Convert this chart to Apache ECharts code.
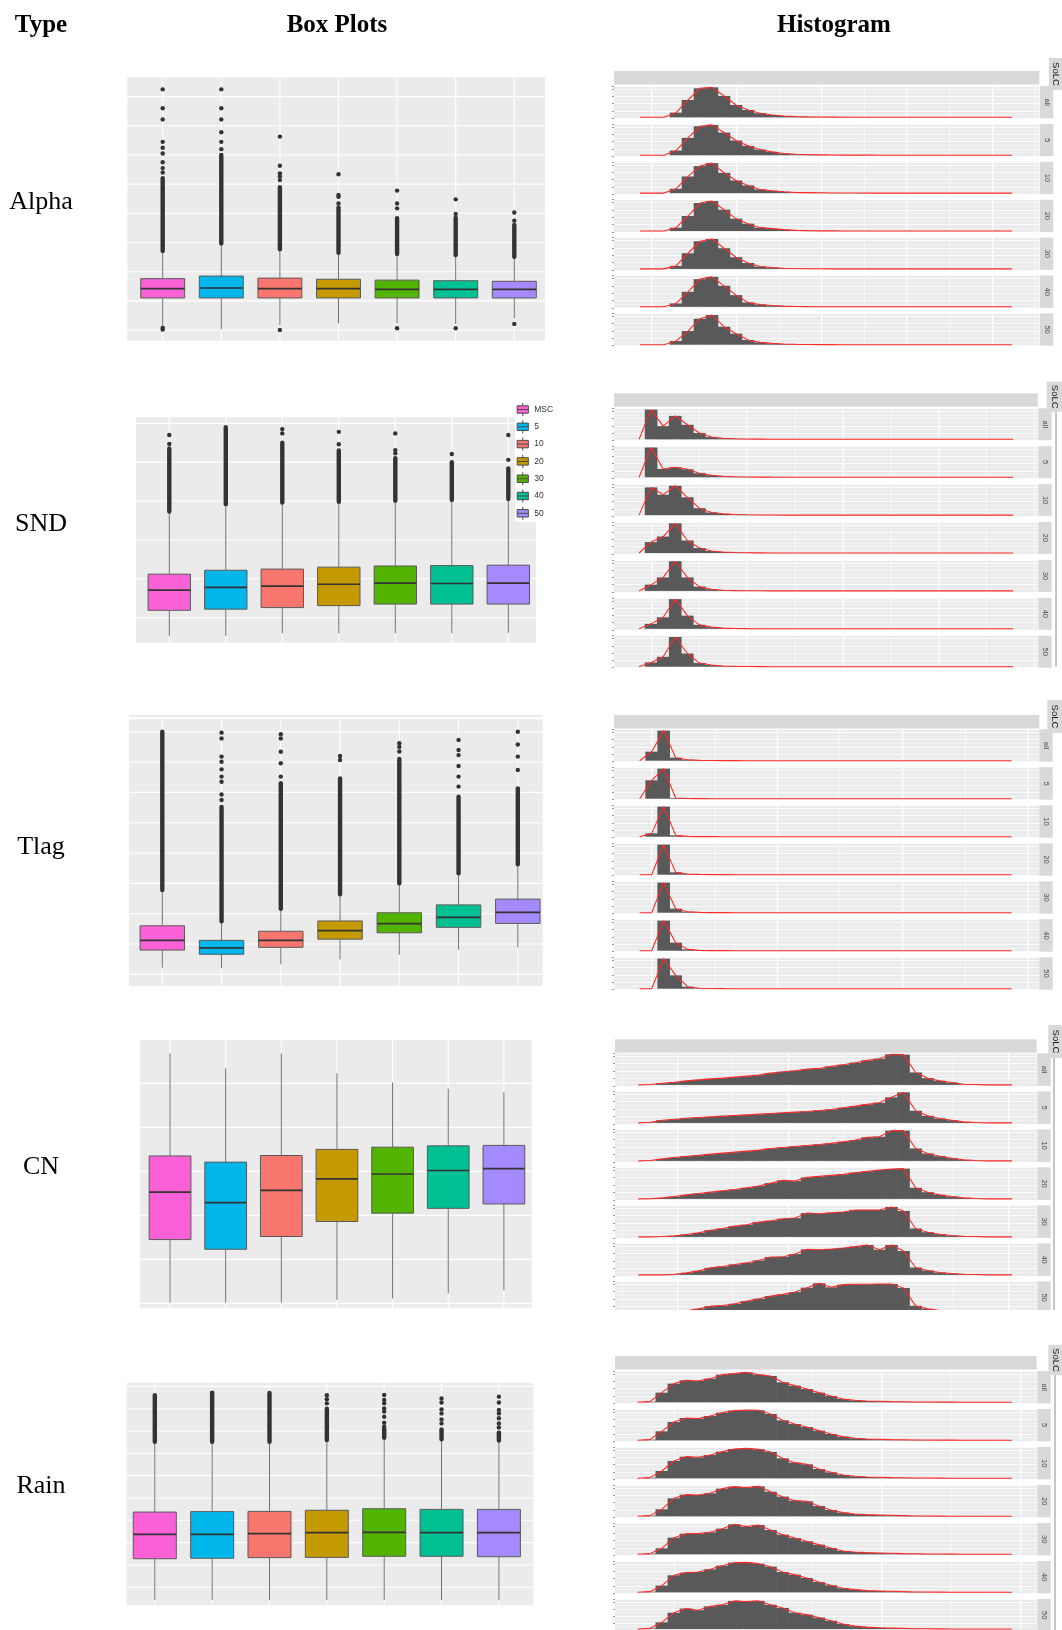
<!DOCTYPE html>
<html><head><meta charset="utf-8">
<script src="https://cdn.jsdelivr.net/npm/echarts@6/dist/echarts.min.js"></script>
<style>html,body{margin:0;padding:0;background:#fff}#c{width:1062px;height:1630px}</style>
</head><body><div id="c"></div>
<script>
// ---------------- DATA ----------------
const categories = ['MSC','5','10','20','30','40','50'];
const facetLabels = ['all','5','10','20','30','40','50'];
const rowTypes = ['Alpha','SND','Tlag','CN','Rain'];
const headers = ['Type','Box Plots','Histogram'];

// box stats per category: [low whisker, Q1, median, Q3, high whisker]
const alphaStats = [[0.17,1.10,1.42,1.76,2.71],[0.02,1.10,1.44,1.85,2.97],[0.17,1.10,1.42,1.78,2.77],[0.23,1.10,1.42,1.74,2.65],[0.23,1.10,1.39,1.71,2.61],[0.21,1.10,1.39,1.69,2.57],[0.40,1.10,1.39,1.67,2.51]];
// dense outlier runs: [category, from, to]
const alphaRuns = [[0,2.71,5.2],[1,2.97,6.0],[2,2.77,4.9],[3,2.65,4.2],[4,2.61,3.77],[5,2.57,3.85],[6,2.51,3.6]];
const alphaPoints = [[0,0.02],[0,0.08],[0,5.4],[0,5.55],[0,5.75],[0,6.05],[0,6.25],[0,6.45],[0,7.22],[0,7.6],[0,8.25],
  [1,6.2],[1,6.45],[1,6.78],[1,7.22],[1,7.6],[1,8.25],
  [2,0.0],[2,5.14],[2,5.26],[2,5.37],[2,5.63],[2,6.63],
  [3,4.34],[3,4.57],[3,4.63],[3,5.34],
  [4,0.06],[4,3.83],[4,4.17],[4,4.34],[4,4.78],
  [5,0.06],[5,3.98],[5,4.48],
  [6,0.21],[6,3.75],[6,4.03]];

const sndStats = [[-0.47,0.19,0.71,1.12,2.73],[-0.47,0.22,0.78,1.22,2.92],[-0.40,0.26,0.81,1.25,2.96],[-0.40,0.31,0.86,1.30,2.98],[-0.40,0.35,0.89,1.33,3.01],[-0.40,0.35,0.88,1.34,3.03],[-0.39,0.35,0.89,1.35,3.05]];
const sndRuns = [[0,2.73,4.35],[1,2.92,4.9],[2,2.96,4.5],[3,2.98,4.3],[4,3.01,4.1],[5,3.03,4.0],[6,3.05,3.84]];
const sndPoints = [[0,4.47],[0,4.70],[2,4.74],[2,4.85],[3,4.46],[3,4.78],[4,4.23],[4,4.31],[4,4.74],[5,4.21],[6,4.06],[6,4.70]];

const tlagStats = [[0.22,0.80,1.12,1.60,2.78],[0.20,0.66,0.87,1.12,1.75],[0.33,0.89,1.12,1.42,2.16],[0.49,1.16,1.44,1.76,2.64],[0.64,1.37,1.67,2.03,3.00],[0.82,1.55,1.88,2.29,3.33],[0.89,1.68,2.04,2.48,3.63]];
const tlagRuns = [[0,2.78,8.0],[1,1.75,5.52],[2,2.16,6.3],[3,2.64,6.46],[4,3.0,7.1],[5,3.33,5.86],[6,3.63,6.13]];
const tlagPoints = [[1,5.75],[1,5.93],[1,6.35],[1,6.52],[1,6.76],[1,7.01],[1,7.18],[1,7.78],[1,7.97],
  [2,6.52],[2,6.96],[2,7.34],[2,7.78],[2,7.92],[3,7.07],[3,7.2],[4,7.35],[4,7.5],[4,7.62],
  [5,6.19],[5,6.52],[5,6.87],[5,7.23],[5,7.4],[5,7.73],[6,6.74],[6,7.18],[6,7.58],[6,8.0]];

const cnStats = [[0.02,1.45,2.53,3.35,5.68],[0.02,1.23,2.29,3.21,5.34],[0.02,1.52,2.57,3.36,5.68],[0.08,1.86,2.83,3.50,5.23],[0.11,2.05,2.94,3.55,5.02],[0.23,2.16,3.02,3.58,4.88],[0.30,2.26,3.06,3.59,4.80]];
const cnRuns = [];
const cnPoints = [];

const rainStats = [[-0.57,1.28,2.37,3.37,6.52],[-0.57,1.30,2.37,3.39,6.52],[-0.57,1.33,2.40,3.40,6.52],[-0.57,1.34,2.45,3.45,6.60],[-0.57,1.39,2.46,3.52,6.70],[-0.57,1.39,2.45,3.49,6.63],[-0.57,1.37,2.45,3.49,6.57]];
const rainRuns = [[0,6.52,8.6],[1,6.52,8.72],[2,6.52,8.7],[3,6.6,8.0],[4,6.7,7.1],[5,6.63,7.0],[6,6.57,6.9]];
const rainPoints = [[3,8.24],[3,8.42],[3,8.6],[4,7.19],[4,7.37],[4,7.64],[4,7.87],[4,8.01],[4,8.24],[4,8.39],[4,8.61],
  [5,7.07],[5,7.34],[5,7.52],[5,7.79],[5,7.97],[5,8.28],[5,8.46],
  [6,6.93],[6,7.16],[6,7.34],[6,7.57],[6,7.79],[6,7.94],[6,8.28],[6,8.54]];

// horizontal grid-line values of each box panel
const alphaGridY = [0,1,2,3,4,5,6,7,8];
const sndGridY = [0,1,2,3,4,5];
const tlagGridY = [0,1,2,3,4,5,6,7,8];
const cnGridY = [0,1,2,3,4,5];
const rainGridY = [0,1,2,3,4,5,6,7,8,9];
const boxGridX = [0,1,2,3,4,5,6];

// histogram counts per bin (bin k spans [k, k+1]), 7 facets each
const alphaHist = [
 [0,0,0,14,52,87,90,64,37,22,12,7,4,2,1.2,0.7,0.4,0.2,0.1,0.1,0,0,0,0,0,0,0,0,0,0,0,0],
 [0,0,0,14,52,87,91,68,44,28,17,10,5,3,1.5,1,0.5,0.3,0.2,0.1,0,0,0,0,0,0,0,0,0,0,0,0],
 [0,0,0,13,50,81,90,61,38,23,11,7,4,2,1.5,1,0.5,0.3,0.1,0,0,0,0,0,0,0,0,0,0,0,0,0],
 [0,0,0,10,45,84,90,64,37,22,10,7,4,2,1,0.5,0.3,0.1,0,0,0,0,0,0,0,0,0,0,0,0,0,0],
 [0,0,0,9,47,83,90,62,35,18,7,4,2,1,0.5,0.3,0.1,0,0,0,0,0,0,0,0,0,0,0,0,0,0,0],
 [0,0,0,10,45,83,90,63,35,13,7,4,2,1,0.5,0.3,0.1,0,0,0,0,0,0,0,0,0,0,0,0,0,0,0],
 [0,0,0,11,41,78,89,54,33,14,7,4,2,1,0.5,0.3,0.1,0,0,0,0,0,0,0,0,0,0,0,0,0,0,0]];
const sndHist = [
 [0,90,40,71,44,19,7,3,1.5,0.8,0.5,0.3,0.2,0.1,0,0,0,0,0,0,0,0,0,0,0,0,0,0,0,0,0,0],
 [0,90,25,30,24,12,6,3,1.5,0.7,0.4,0.2,0.1,0,0,0,0,0,0,0,0,0,0,0,0,0,0,0,0,0,0,0],
 [0,84,62,89,54,21,8,4,2,1,0.5,0.3,0.1,0,0,0,0,0,0,0,0,0,0,0,0,0,0,0,0,0,0,0],
 [0,33,50,90,38,15,6,3,1.5,0.7,0.4,0.2,0,0,0,0,0,0,0,0,0,0,0,0,0,0,0,0,0,0,0,0],
 [0,19,41,90,41,13,5,2,1,0.5,0.3,0.1,0,0,0,0,0,0,0,0,0,0,0,0,0,0,0,0,0,0,0,0],
 [0,15,35,90,40,12,5,2,1,0.5,0.3,0,0,0,0,0,0,0,0,0,0,0,0,0,0,0,0,0,0,0,0,0],
 [0,13,30,90,40,11,5,2,1,0.5,0.3,0,0,0,0,0,0,0,0,0,0,0,0,0,0,0,0,0,0,0,0,0]];
const tlagHist = [
 [0,27,90,9,3,1,0.5,0.2,0.1,0,0,0,0,0,0,0,0,0,0,0,0,0,0,0,0,0,0,0,0,0,0,0],
 [0,55,90,2,0.5,0.2,0,0,0,0,0,0,0,0,0,0,0,0,0,0,0,0,0,0,0,0,0,0,0,0,0,0],
 [0,10,90,4,1,0.3,0.1,0,0,0,0,0,0,0,0,0,0,0,0,0,0,0,0,0,0,0,0,0,0,0,0,0],
 [0,0,90,7,2,1,0.3,0.1,0,0,0,0,0,0,0,0,0,0,0,0,0,0,0,0,0,0,0,0,0,0,0,0],
 [0,0,90,12,3,1,0.3,0.1,0,0,0,0,0,0,0,0,0,0,0,0,0,0,0,0,0,0,0,0,0,0,0,0],
 [0,0,90,24,4,1,0.3,0.1,0,0,0,0,0,0,0,0,0,0,0,0,0,0,0,0,0,0,0,0,0,0,0,0],
 [0,0,90,40,6,1.5,0.5,0.2,0,0,0,0,0,0,0,0,0,0,0,0,0,0,0,0,0,0,0,0,0,0,0,0]];
const cnHist = [
 [0,1,5,8,12,15,18,20,23,26,29,35,39,42,47,49,55,60,66,73,78,91,90,37,20,12,7,2,1,0,0,0],
 [0,2,8,11,14,16,18,20,22,24,26,28,30,32,34,37,40,45,50,55,60,76,91,36,21,13,8,3,1,0,0,0],
 [0,1,6,10,14,17,20,23,26,29,32,37,40,43,46,49,52,57,62,70,72,90,90,37,22,14,8,3,1,0,0,0],
 [0,0.5,3,7,12,16,20,24,28,33,38,47,55,53,64,67,70,73,78,82,86,89,90,33,20,12,7,3,1,0,0,0],
 [0,0,1,3,7,12,20,25,32,36,44,48,54,56,71,69,72,74,80,80,80,89,77,25,14,8,4,2,1,0,0,0],
 [0,0,0,2,6,12,21,25,31,36,43,53,54,62,76,75,77,80,84,89,75,89,71,22,13,7,4,2,1,0,0,0],
 [0,0,0,0,6,12,20,22,27,35,42,50,55,62,75,88,76,84,85,85,86,86,74,21,12,7,3,2,1,0,0,0]];
const rainHist = [
 [0,2,29,56,66,64,71,83,86,90,83,79,60,50,40,29,19,10,6,4,3,2,1.5,1,0.7,0.5,0.4,0.3,0.2,0.2,0.1,0.1],
 [0,2,27,55,67,65,73,83,89,91,90,79,60,49,40,29,19,11,6,4,3,2,1.5,1,0.7,0.5,0.4,0.3,0.2,0.2,0.1,0.1],
 [0,2,22,52,65,63,70,80,88,90,87,79,60,47,42,28,18,10,6,4,3,2,1.5,1,0.7,0.5,0.3,0.2,0.2,0.1,0.1,0.1],
 [0,2,21,54,65,64,69,83,89,86,90,74,59,47,45,31,19,11,7,5,4,3,2,1,0.7,0.5,0.3,0.2,0.2,0.1,0.1,0.1],
 [0,2,18,50,62,62,66,77,90,83,88,73,59,49,39,29,19,10,7,5,4,3,2,1.5,1,0.7,0.5,0.3,0.2,0.1,0.1,0.1],
 [0,2,20,51,59,61,69,80,89,90,86,77,61,53,43,31,21,12,8,5,4,3,2,1,0.7,0.5,0.3,0.2,0.2,0.1,0.1,0.1],
 [0,2,21,51,64,59,71,76,88,86,88,76,66,51,45,36,26,16,9,6,4,3,2,1,0.7,0.5,0.3,0.2,0.2,0.1,0.1,0.1]];

// vertical grid-line values of each histogram block (bin units)
const alphaHistGridMajor = [1.47,8.56,15.64,22.72,29.89];
const alphaHistGridMinor = [5.03,12.11,19.19,26.33,33.43];
const sndHistGridMajor = [1.55,9.42,17.43,25.36];
const sndHistGridMinor = [5.47,13.43,21.38,29.31,33.29];
const tlagHistGridMajor = [1.5,11.99,22.42,32.89];
const tlagHistGridMinor = [6.78,17.19,27.64];
const cnHistGridMajor = [3.76,12.97,22.15,31.22];
const cnHistGridMinor = [-0.83,8.32,17.5,26.63];
const rainHistGridMajor = [9.25,20.72,32.24];
const rainHistGridMinor = [3.54,14.97,26.46];

// ---------------- STYLE / LAYOUT ----------------
const boxColors = ['#FB61D7','#00B6EB','#F8766D','#C49A00','#53B400','#00C094','#A58AFF'];
const boxLayouts = [
 {left:127.3, top:77.3, width:417.7, height:263.4, x:[-0.604,6.524], y:[-0.366,8.663]},
 {left:136, top:417.3, width:400, height:225.4, x:[-0.589,6.49], y:[-0.643,5.154]},
 {left:129, top:719.3, width:413.7, height:266.7, x:[-0.562,6.42], y:[-0.385,8.41]},
 {left:140, top:1040, width:391.7, height:267.7, x:[-0.54,6.5], y:[-0.098,5.985]},
 {left:126.7, top:1382.7, width:406.6, height:222.6, x:[-0.49,6.6], y:[-0.806,9.164]}
];
const histLayouts = [
 {stripTop:71, facetTop:86, step:37.9, h:32.3, left:614, right:1039.3, rsLeft:1040, rsW:13.3, solc:[1049,58,13,32], vline:null, x:[-1.667,33.78]},
 {stripTop:393.3, facetTop:408.3, step:37.9, h:32, left:614, right:1037.7, rsLeft:1038.3, rsW:13.4, solc:[1046.7,381.7,15.3,30], vline:[1056,411.7,666.7], x:[-1.575,33.54]},
 {stripTop:715, facetTop:729.3, step:38, h:32.4, left:614, right:1039.3, rsLeft:1039.3, rsW:13.4, solc:[1047.3,700,14.7,33], vline:null, x:[-1.639,33.81]},
 {stripTop:1039.3, facetTop:1053.3, step:38, h:32.6, left:615, right:1036.7, rsLeft:1037.3, rsW:13.4, solc:[1048.3,1025,13.7,33], vline:[1054,1058,1310], cutY:1310, x:[-1.438,33.55]},
 {stripTop:1356, facetTop:1371, step:38, h:32.3, left:615, right:1036.7, rsLeft:1037.3, rsW:13.4, solc:[1048.3,1345,13.7,30], vline:[1055,1375,1630], x:[-1.381,33.56]}
];
const headerPos = [[41,25.5],[337,25.5],[834,25.5]];
const rowLabelPos = [[41,202],[41,524],[41,847],[41,1167.5],[41,1486.5]];
const HIST_Y = [-3, 94];

const boxData = [
 {stats:alphaStats, runs:alphaRuns, pts:alphaPoints, gy:alphaGridY},
 {stats:sndStats, runs:sndRuns, pts:sndPoints, gy:sndGridY},
 {stats:tlagStats, runs:tlagRuns, pts:tlagPoints, gy:tlagGridY},
 {stats:cnStats, runs:cnRuns, pts:cnPoints, gy:cnGridY},
 {stats:rainStats, runs:rainRuns, pts:rainPoints, gy:rainGridY}
];
const histData = [
 {counts:alphaHist, major:alphaHistGridMajor, minor:alphaHistGridMinor},
 {counts:sndHist, major:sndHistGridMajor, minor:sndHistGridMinor},
 {counts:tlagHist, major:tlagHistGridMajor, minor:tlagHistGridMinor},
 {counts:cnHist, major:cnHistGridMajor, minor:cnHistGridMinor},
 {counts:rainHist, major:rainHistGridMajor, minor:rainHistGridMinor}
];

// ---------------- BUILD ----------------
const grids = [], xAxes = [], yAxes = [], series = [], graphics = [];

function gridLines(gi, xs, ys, width, z) {
  const data = xs.map(v => [v, 0]).concat(ys.map(v => [v, 1]));
  return {type:'custom', xAxisIndex:gi, yAxisIndex:gi, silent:true, z:z||1, data,
    renderItem(params, api) {
      const v = api.value(0), dir = api.value(1), cs = params.coordSys;
      if (dir === 0) {
        const x = api.coord([v, 0])[0];
        return {type:'line', shape:{x1:x, y1:cs.y, x2:x, y2:cs.y + cs.height}, style:{stroke:'#ffffff', lineWidth:width}};
      }
      const y = api.coord([0, v])[1];
      return {type:'line', shape:{x1:cs.x, y1:y, x2:cs.x + cs.width, y2:y}, style:{stroke:'#ffffff', lineWidth:width}};
    }};
}

// box panels
boxLayouts.forEach((L, p) => {
  const gi = grids.length;
  grids.push({left:L.left, top:L.top, width:L.width, height:L.height, show:true, backgroundColor:'#ebebeb', borderWidth:0});
  xAxes.push({type:'value', gridIndex:gi, min:L.x[0], max:L.x[1], show:false});
  yAxes.push({type:'value', gridIndex:gi, min:L.y[0], max:L.y[1], show:false});
  const D = boxData[p];
  series.push(gridLines(gi, boxGridX, D.gy, 1.1, 1));
  D.stats.forEach((s, c) => {
    series.push({type:'custom', name:categories[c], xAxisIndex:gi, yAxisIndex:gi, z:2, silent:true,
      itemStyle:{color:boxColors[c]},
      data:[[c].concat(s)],
      renderItem(params, api) {
        const x = api.value(0);
        const lo = api.coord([x, api.value(1)]), q1 = api.coord([x, api.value(2)]),
              md = api.coord([x, api.value(3)]), q3 = api.coord([x, api.value(4)]), hi = api.coord([x, api.value(5)]);
        const xl = api.coord([x - 0.375, 0])[0], xr = api.coord([x + 0.375, 0])[0];
        return {type:'group', children:[
          {type:'line', shape:{x1:lo[0], y1:lo[1], x2:q1[0], y2:q1[1]}, style:{stroke:'#707070', lineWidth:1}},
          {type:'line', shape:{x1:q3[0], y1:q3[1], x2:hi[0], y2:hi[1]}, style:{stroke:'#707070', lineWidth:1}},
          {type:'rect', shape:{x:xl, y:q3[1], width:xr - xl, height:q1[1] - q3[1]}, style:{fill:boxColors[c], stroke:'#5a5a5a', lineWidth:1}},
          {type:'line', shape:{x1:xl, y1:md[1], x2:xr, y2:md[1]}, style:{stroke:'#333333', lineWidth:1.7}}
        ]};
      }});
  });
  if (D.runs.length) series.push({type:'custom', xAxisIndex:gi, yAxisIndex:gi, z:3, silent:true, data:D.runs,
    renderItem(params, api) {
      const a = api.coord([api.value(0), api.value(1)]), b = api.coord([api.value(0), api.value(2)]);
      return {type:'line', shape:{x1:a[0], y1:a[1], x2:b[0], y2:b[1]}, style:{stroke:'#333333', lineWidth:4.4, lineCap:'round'}};
    }});
  if (D.pts.length) series.push({type:'scatter', xAxisIndex:gi, yAxisIndex:gi, z:3, silent:true, data:D.pts,
    symbolSize:4.4, itemStyle:{color:'#333333', opacity:1}});
});

// histogram blocks
histLayouts.forEach((L, b) => {
  const H = histData[b];
  graphics.push({type:'rect', shape:{x:L.left, y:L.stripTop, width:L.right - L.left, height:13.5}, style:{fill:'#d9d9d9'}, z:5});
  graphics.push({type:'rect', shape:{x:L.solc[0], y:L.solc[1], width:L.solc[2], height:L.solc[3]}, style:{fill:'#d9d9d9'}, z:5});
  graphics.push({type:'text', x:L.solc[0] + L.solc[2] / 2, y:L.solc[1] + L.solc[3] / 2, rotation:-Math.PI / 2, z:6,
    style:{text:'SoLC', font:'9.5px "Liberation Sans", Arial, sans-serif', fill:'#1a1a1a', align:'center', verticalAlign:'middle', textAlign:'center', textVerticalAlign:'middle'}});
  if (L.vline) graphics.push({type:'line', shape:{x1:L.vline[0], y1:L.vline[1], x2:L.vline[0], y2:L.vline[2]}, style:{stroke:'#8c8c8c', lineWidth:1}, z:5});
  H.counts.forEach((counts, f) => {
    const top = L.facetTop + f * L.step;
    const gi = grids.length;
    grids.push({left:L.left, top:top, width:L.right - L.left, height:L.h, show:true, backgroundColor:'#ebebeb', borderWidth:0});
    xAxes.push({type:'value', gridIndex:gi, min:L.x[0], max:L.x[1], axisLine:{show:false, onZero:false}, axisTick:{show:false}, axisLabel:{show:false}, splitLine:{show:false}});
    yAxes.push({type:'value', gridIndex:gi, min:HIST_Y[0], max:HIST_Y[1], interval:22,
      axisLine:{show:false, onZero:false}, axisLabel:{show:false},
      axisTick:{show:true, length:2, lineStyle:{color:'#4d4d4d', width:0.6}},
      minorTick:{show:false, splitNumber:2},
      splitLine:{show:true, lineStyle:{color:'#ffffff', width:0.8}},
      minorSplitLine:{show:true, lineStyle:{color:'#f8f8f8', width:0.5}}});
    series.push(gridLines(gi, H.major, [], 1.2, 1));
    series.push(gridLines(gi, H.minor, [], 0.6, 1));
    series.push({type:'custom', xAxisIndex:gi, yAxisIndex:gi, z:2, silent:true,
      data: counts.map((v, k) => [k, v]).filter(d => d[1] > 0),
      renderItem(params, api) {
        const k = api.value(0), v = api.value(1);
        const p0 = api.coord([k, 0]), p1 = api.coord([k + 1, v]);
        return {type:'rect', shape:{x:p0[0] - 0.3, y:p1[1], width:p1[0] - p0[0] + 0.6, height:p0[1] - p1[1]}, style:{fill:'#595959'}};
      }});
    series.push({type:'line', xAxisIndex:gi, yAxisIndex:gi, z:4, silent:true, showSymbol:false, symbol:'none',
      data: counts.map((v, k) => [k + 0.5, v]),
      lineStyle:{color:'#ff2a2a', width:1.1}});
    graphics.push({type:'rect', shape:{x:L.rsLeft, y:top, width:L.rsW, height:L.h}, style:{fill:'#d9d9d9'}, z:5});
    graphics.push({type:'text', x:L.rsLeft + L.rsW / 2, y:top + L.h / 2, rotation:-Math.PI / 2, z:6,
      style:{text:facetLabels[f], font:'7.5px "Liberation Sans", Arial, sans-serif', fill:'#4d4d4d', align:'center', verticalAlign:'middle', textAlign:'center', textVerticalAlign:'middle'}});
  });
  if (L.cutY) graphics.push({type:'rect', shape:{x:600, y:L.cutY, width:462, height:14}, style:{fill:'#ffffff'}, z:30});
});

// headers & row labels
headers.forEach((t, i) => graphics.push({type:'text', x:headerPos[i][0], y:headerPos[i][1], z:6,
  style:{text:t, font:'bold 25px "Liberation Serif", "Times New Roman", serif', fill:'#000', align:'center', verticalAlign:'middle', textAlign:'center', textVerticalAlign:'middle'}}));
rowTypes.forEach((t, i) => graphics.push({type:'text', x:rowLabelPos[i][0], y:rowLabelPos[i][1], z:6,
  style:{text:t, font:'26px "Liberation Serif", "Times New Roman", serif', fill:'#000', align:'center', verticalAlign:'middle', textAlign:'center', textVerticalAlign:'middle'}}));
graphics.push({type:'line', shape:{x1:129, y1:716, x2:542.7, y2:716}, style:{stroke:'#d4d4d4', lineWidth:1}, z:5});

const option = {
  animation:false,
  backgroundColor:'#ffffff',
  grid:grids, xAxis:xAxes, yAxis:yAxes, series:series,
  legend:{orient:'vertical', left:515, top:400, itemWidth:13, itemHeight:13, itemGap:3.3,
    padding:[2.5,10,1.5,1.7], backgroundColor:'#ffffff', z:10, selectedMode:false,
    icon:'path://M7,0L7,3M1,3L13,3L13,11L1,11ZM1,7L13,7M7,11L7,14',
    textStyle:{fontSize:8.5, color:'#333', fontFamily:'"Liberation Sans", Arial, sans-serif'},
    data: categories.map((c, i) => ({name:c, itemStyle:{color:boxColors[i], borderColor:'#4a4a4a', borderWidth:1}}))},
  graphic:{elements:graphics}
};
const chart = echarts.init(document.getElementById('c'), null, {renderer:'canvas', width:1062, height:1630});
chart.setOption(option);
</script></body></html>
